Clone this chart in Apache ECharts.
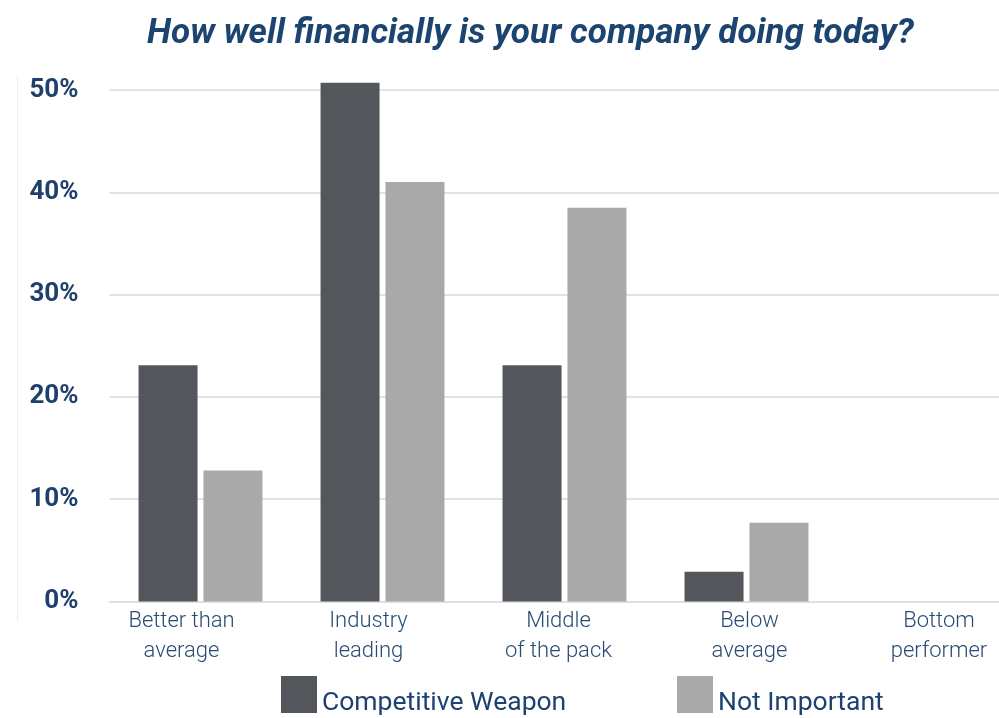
<!DOCTYPE html>
<html>
<head>
<meta charset="utf-8">
<script src="https://cdn.jsdelivr.net/npm/echarts@6/dist/echarts.min.js"></script>
<style>
  html, body { margin: 0; padding: 0; background: #ffffff; }
  #chart { width: 999px; height: 718px; }
</style>
</head>
<body>
<div id="chart"></div>
<script>
const categories = ['Better than\naverage', 'Industry\nleading', 'Middle\nof the pack', 'Below\naverage', 'Bottom\nperformer'];
const competitiveWeapon = [23.1, 50.7, 23.1, 2.9, 0];
const notImportant = [12.8, 41.0, 38.5, 7.7, 0];
const yTicks = [0, 10, 20, 30, 40, 50];
const seriesNames = ['Competitive Weapon', 'Not Important'];

// small per-label horizontal nudges (padding [top, right, bottom, left])
const labelPads = [[0, 38, 0, 0], [0, 28, 0, 0], [0, 12, 0, 0], [0, 0, 0, 6], [0, 0, 0, 21]];

const chart = echarts.init(document.getElementById('chart'), null, { renderer: 'canvas' });

const navy = '#1d4170';

function legendFor(name, left) {
  return {
    data: [name],
    left: left,
    top: 676,
    padding: 0,
    icon: 'rect',
    itemWidth: 36,
    itemHeight: 37,
    itemGap: 5,
    formatter: '{t|{name}}',
    textStyle: {
      fontFamily: 'Roboto',
      fontSize: 26.5,
      color: navy,
      rich: {
        t: { fontFamily: 'Roboto', fontSize: 26.5, color: navy, padding: [17, 0, 0, 0] }
      }
    }
  };
}

chart.setOption({
  backgroundColor: '#ffffff',
  animation: false,
  title: {
    text: 'How well financially is your company doing today?',
    left: 147,
    top: 17,
    padding: 0,
    textStyle: {
      fontFamily: 'Roboto',
      fontStyle: 'italic',
      fontWeight: 'bold',
      fontSize: 35,
      color: '#1c4470'
    }
  },
  legend: [
    legendFor(seriesNames[0], 281),
    legendFor(seriesNames[1], 677)
  ],
  graphic: [
    {
      type: 'line',
      shape: { x1: 17.5, y1: 76, x2: 17.5, y2: 622 },
      style: { stroke: '#eeeeee', lineWidth: 1 }
    }
  ],
  grid: {
    left: 109.5,
    top: 90,
    width: 910,
    height: 511.5,
    containLabel: false,
    outerBoundsMode: 'none'
  },
  xAxis: {
    type: 'category',
    data: categories.map((c, i) => ({ value: c, textStyle: { padding: labelPads[i] } })),
    axisLine: { show: true, lineStyle: { color: '#e0e0e0', width: 2 } },
    axisTick: { show: false },
    axisLabel: {
      interval: 0,
      margin: 5,
      fontFamily: 'Roboto',
      fontWeight: 300,
      fontSize: 22,
      lineHeight: 30,
      color: '#2a4c74'
    }
  },
  yAxis: {
    type: 'value',
    min: yTicks[0],
    max: yTicks[yTicks.length - 1],
    interval: 10,
    axisLine: { show: false },
    axisTick: { show: false },
    splitLine: { lineStyle: { color: '#e2e2e2', width: 2 } },
    axisLabel: {
      margin: 31,
      formatter: '{value}%',
      fontFamily: 'Roboto',
      fontWeight: 'bold',
      fontSize: 26,
      color: '#1f3f6d'
    }
  },
  series: [
    {
      name: seriesNames[0],
      type: 'bar',
      data: competitiveWeapon,
      barWidth: 59,
      barGap: '10%',
      clip: false,
      itemStyle: { color: '#53565a' }
    },
    {
      name: seriesNames[1],
      type: 'bar',
      data: notImportant,
      barWidth: 59,
      barGap: '10%',
      clip: false,
      itemStyle: { color: '#a9a9a9' }
    }
  ]
});
</script>
</body>
</html>
